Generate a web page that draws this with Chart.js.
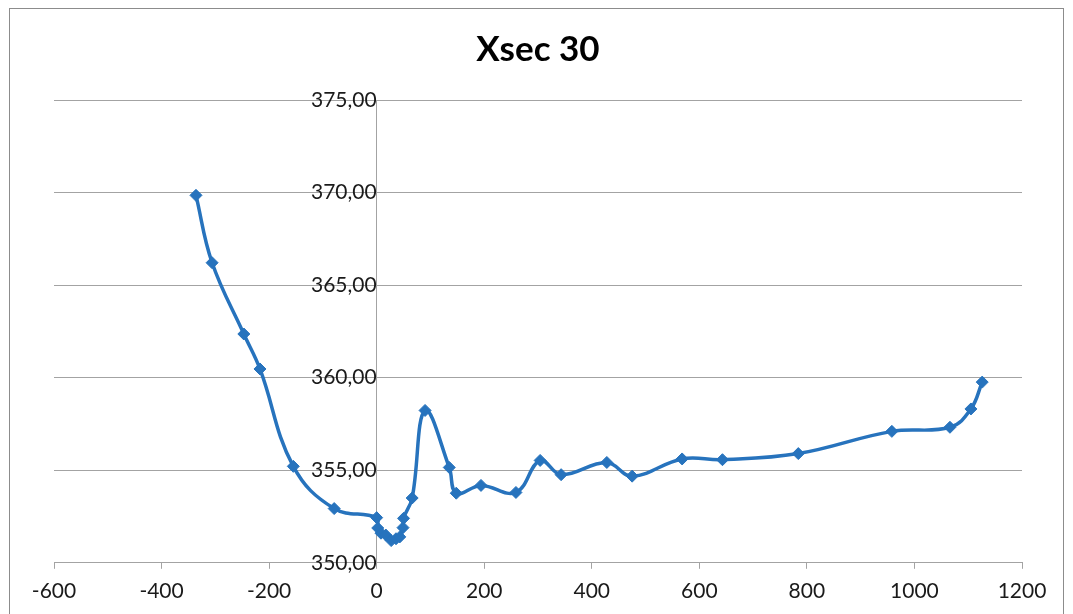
<!DOCTYPE html>
<html>
<head>
<meta charset="utf-8">
<script src="https://cdn.jsdelivr.net/npm/chart.js@4"></script>
<style>
  body { margin: 0; background: #fff; }
  #wrap { position: absolute; left: 0; top: 0; width: 1073px; height: 614px; }
</style>
</head>
<body>
<div id="wrap"><canvas id="grafico"></canvas></div>
<script>
// Xsec 30 - estación (m) vs cota
const estaciones = [-336, -306, -247, -217, -155, -79, 0, 2, 8, 17, 27, 36, 43, 49, 50, 66, 90, 135, 148, 194, 259, 304, 343, 428, 475, 568, 643, 784, 958, 1066, 1105, 1126];
const cotas = [369.85, 366.21, 362.36, 360.47, 355.21, 352.93, 352.44, 351.88, 351.6, 351.5, 351.2, 351.3, 351.4, 351.9, 352.4, 353.5, 358.23, 355.15, 353.76, 354.18, 353.8, 355.53, 354.76, 355.42, 354.68, 355.61, 355.57, 355.9, 357.1, 357.32, 358.31, 359.76];
const ticksX = [-600, -400, -200, 0, 200, 400, 600, 800, 1000, 1200];
const ticksY = [350, 355, 360, 365, 370, 375];

const puntos = estaciones.map((x, i) => ({ x: x, y: cotas[i] }));

const azul = '#2773BD';
const gris = '#a3a3a3';
const fuente = 'Lato, "Open Sans", sans-serif';

// marco exterior del gráfico
const marco = {
    id: 'marco',
    afterDraw(chart) {
        const ctx = chart.ctx;
        ctx.save();
        ctx.strokeStyle = '#8c8c8c';
        ctx.lineWidth = 1;
        ctx.strokeRect(9.5, 8.5, 1054, 620);
        ctx.restore();
    }
};

new Chart(document.getElementById('grafico'), {
    type: 'scatter',
    data: {
        datasets: [{
            data: puntos,
            showLine: true,
            tension: 0.4,
            borderColor: azul,
            backgroundColor: azul,
            borderWidth: 3.5,
            pointStyle: 'rectRot',
            pointRadius: 6,
            pointBorderWidth: 1
        }]
    },
    options: {
        responsive: true,
        maintainAspectRatio: false,
        animation: false,
        layout: {
            padding: { left: 54, right: 51, top: 4, bottom: 0 }
        },
        plugins: {
            legend: { display: false },
            tooltip: { enabled: false },
            title: {
                display: true,
                text: 'Xsec 30',
                color: '#000',
                font: { size: 35, weight: 'bold', family: fuente },
                padding: { top: 25, bottom: 29 }
            }
        },
        scales: {
            x: {
                type: 'linear',
                position: 'bottom',
                min: ticksX[0],
                max: ticksX[ticksX.length - 1],
                afterBuildTicks: (axis) => { axis.ticks = ticksX.map(v => ({ value: v })); },
                grid: {
                    drawOnChartArea: false,
                    drawTicks: true,
                    tickLength: 6,
                    color: gris
                },
                border: { color: gris },
                ticks: {
                    color: '#1a1a1a',
                    font: { size: 21, family: fuente },
                    padding: 10,
                    maxRotation: 0,
                    callback: (v) => String(v)
                }
            },
            y: {
                type: 'linear',
                axis: 'y',
                position: { x: 0 },
                min: ticksY[0],
                max: ticksY[ticksY.length - 1],
                afterBuildTicks: (axis) => { axis.ticks = ticksY.map(v => ({ value: v })); },
                grid: {
                    color: gris,
                    tickLength: 5
                },
                border: { color: gris },
                ticks: {
                    color: '#1a1a1a',
                    font: { size: 21, family: fuente },
                    padding: 11,
                    callback: (v) => v.toFixed(2).replace('.', ',')
                }
            }
        }
    },
    plugins: [marco]
});
</script>
</body>
</html>
